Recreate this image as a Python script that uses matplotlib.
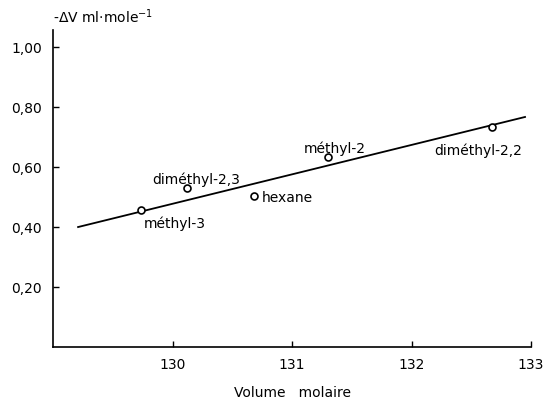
import matplotlib
matplotlib.use("Agg")
import matplotlib.pyplot as plt
import numpy as np

names = ["méthyl-3", "diméthyl-2,3", "hexane", "méthyl-2", "diméthyl-2,2"]
vol = [129.74, 130.12, 130.68, 131.30, 132.67]
dv = [0.457, 0.530, 0.503, 0.633, 0.733]
line_x = [129.21, 132.95]
line_y = [0.400, 0.767]
xticks = [130, 131, 132, 133]
yticks = [0.20, 0.40, 0.60, 0.80, 1.00]
ytick_labels = ["0,20", "0,40", "0,60", "0,80", "1,00"]

plt.rcParams['font.family'] = ['DejaVu Sans']
fig = plt.figure(figsize=(5.44, 4.05), dpi=100)
ax = fig.add_axes([53/544, 58/405, 478/544, 317/405])

ax.plot(line_x, line_y, color='black', lw=1.3, zorder=1)
ax.plot(vol, dv, 'o', mfc='white', mec='black', ms=5, mew=1.2, zorder=2)

offsets = {
    "méthyl-3": (0.02, -0.045, 'left'),
    "diméthyl-2,3": (0.08, 0.028, 'center'),
    "hexane": (0.07, -0.005, 'left'),
    "méthyl-2": (0.06, 0.027, 'center'),
    "diméthyl-2,2": (-0.11, -0.08, 'center'),
}
for n, x, y in zip(names, vol, dv):
    dx, dy, ha = offsets[n]
    ax.text(x + dx, y + dy, n, ha=ha, va='center', fontsize=10)

ax.set_xlim(129.0, 133.0)
ax.set_ylim(0, 1.057)
ax.set_xticks(xticks)
ax.set_xticklabels([str(t) for t in xticks], fontsize=10)
ax.set_yticks(yticks)
ax.set_yticklabels(ytick_labels, fontsize=10)
ax.tick_params(direction='in', length=4, width=1)
ax.tick_params(axis='x', pad=8)
ax.tick_params(axis='y', pad=8)
for s in ['top', 'right']:
    ax.spines[s].set_visible(False)
for s in ['left', 'bottom']:
    ax.spines[s].set_linewidth(1.2)

ax.set_xlabel("Volume   molaire", fontsize=10, labelpad=10)
fig.text(53/544, 1 - 17/405, "-ΔV ml·mole$^{-1}$", fontsize=10, ha='left', va='center')

fig.savefig("out.png", dpi=100)
